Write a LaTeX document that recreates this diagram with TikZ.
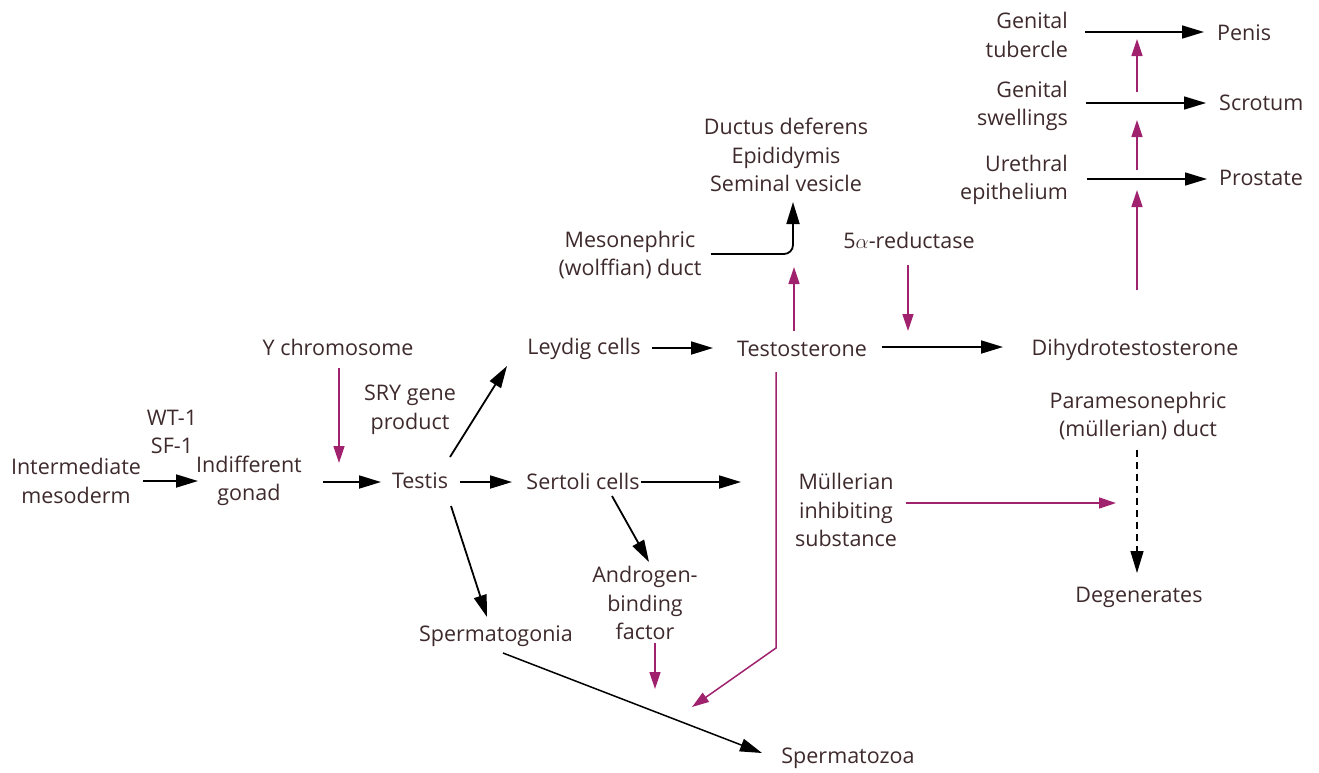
\documentclass[tikz,border=0pt]{standalone}
\usepackage{fontspec}
\setmainfont{Open Sans}
\usetikzlibrary{arrows.meta}
\definecolor{txt}{HTML}{3E2A2C}
\definecolor{mag}{HTML}{A0226E}
\begin{document}
\begin{tikzpicture}[x=1pt,y=-1pt,
  lbl/.style={font=\fontsize{21.5}{28.5}\selectfont, text=txt, align=center, inner sep=0pt},
  blk/.style={line width=1.8pt, draw=black, -{Triangle[length=22pt,width=13pt]}},
  mg/.style={line width=1.5pt, draw=mag, -{Triangle[length=17pt,width=11pt]}}]
\useasboundingbox (0,0) rectangle (1319,772);
% labels
\node[lbl] (im) at (76,481) {Intermediate\\mesoderm};
\node[lbl] (wt) at (172,432) {WT-1\\SF-1};
\node[lbl] (ig) at (249,481) {Indifferent\\gonad};
\node[lbl] (testis) at (420,481) {Testis};
\node[lbl] (ychr) at (338,347) {Y chromosome};
\node[lbl] (sry) at (410,410) {SRY gene\\product};
\node[lbl] (leydig) at (584,349) {Leydig cells};
\node[lbl] (testo) at (802,349) {Testosterone};
\node[lbl] (dht) at (1135,350) {Dihydrotestosterone};
\node[lbl] (sertoli) at (583,481) {Sertoli cells};
\node[lbl] (mis) at (846,510) {Müllerian\\inhibiting\\substance};
\node[lbl] (abf) at (645,603) {Androgen-\\binding\\factor};
\node[lbl] (sgon) at (496,636) {Spermatogonia};
\node[lbl] (szoa) at (848,758) {Spermatozoa};
\node[lbl] (para) at (1138,416) {Paramesonephric\\(müllerian) duct};
\node[lbl] (degen) at (1139,597) {Degenerates};
\node[lbl] (meso) at (630,255) {Mesonephric\\(wolffian) duct};
\node[lbl] (duct) at (786,155) {Ductus deferens\\Epididymis\\Seminal vesicle};
\node[lbl] (red) at (909,240) {5$\alpha$-reductase};
\node[lbl, anchor=east, align=right] (gt) at (1068,35) {Genital\\tubercle};
\node[lbl, anchor=east, align=right] (gs) at (1068,106) {Genital\\swellings};
\node[lbl, anchor=east, align=right] (ue) at (1068,180) {Urethral\\epithelium};
\node[lbl, anchor=west] (penis) at (1217,33) {Penis};
\node[lbl, anchor=west] (scrot) at (1219,103) {Scrotum};
\node[lbl, anchor=west] (prost) at (1219,178) {Prostate};
% free ends
\coordinate (c1) at (143,481); \coordinate (c2) at (198,481);
\coordinate (c3) at (323,482); \coordinate (c4) at (381,482);
\coordinate (c5) at (339,368); \coordinate (c6) at (339,463);
\coordinate (c7) at (450,457); \coordinate (c8) at (507,366);
\coordinate (c9) at (460,482); \coordinate (c10) at (512,482);
\coordinate (c11) at (451,506); \coordinate (c12) at (487,617);
\coordinate (c13) at (652,348); \coordinate (c14) at (713,348);
\coordinate (c15) at (882,347); \coordinate (c16) at (1003,347);
\coordinate (c17) at (908,265); \coordinate (c18) at (908,331);
\coordinate (c19) at (794,331); \coordinate (c20) at (794,267);
\coordinate (c21) at (711,254); \coordinate (c22) at (793,202);
\coordinate (c23) at (776,372); \coordinate (c24) at (776,648); \coordinate (c25) at (692,707);
\coordinate (c26) at (641,482); \coordinate (c27) at (741,482);
\coordinate (c28) at (612,496); \coordinate (c29) at (649,562);
\coordinate (c30) at (655,643); \coordinate (c31) at (655,689);
\coordinate (c32) at (503,653); \coordinate (c33) at (762,753);
\coordinate (c34) at (906,503); \coordinate (c35) at (1116,503);
\coordinate (c36) at (1137,450); \coordinate (c37) at (1137,573);
\coordinate (c38) at (1137,290); \coordinate (c39) at (1137,190);
\coordinate (c40) at (1137,170); \coordinate (c41) at (1137,120);
\coordinate (c42) at (1137,92); \coordinate (c43) at (1137,39);
\coordinate (c44) at (1085,32); \coordinate (c45) at (1204,32);
\coordinate (c46) at (1086,103); \coordinate (c47) at (1206,103);
\coordinate (c48) at (1087,179); \coordinate (c49) at (1207,179);
% connectors
\draw[blk] (c1) -- (c2);
\draw[blk] (c3) -- (c4);
\draw[mg] (c5) -- (c6);
\draw[blk] (c7) -- (c8);
\draw[blk] (c9) -- (c10);
\draw[blk] (c11) -- (c12);
\draw[blk] (c13) -- (c14);
\draw[blk] (c15) -- (c16);
\draw[mg] (c17) -- (c18);
\draw[mg] (c19) -- (c20);
\draw[blk, rounded corners=9pt] (c21) -| (c22);
\draw[mg] (c23) -- (c24) -- (c25);
\draw[blk] (c26) -- (c27);
\draw[blk] (c28) -- (c29);
\draw[mg] (c30) -- (c31);
\draw[blk, line width=1.5pt] (c32) -- (c33);
\draw[mg] (c34) -- (c35);
\draw[blk, line width=1.3pt, dash pattern=on 7pt off 5pt] (c36) -- (c37);
\draw[mg] (c38) -- (c39);
\draw[mg] (c40) -- (c41);
\draw[mg] (c42) -- (c43);
\draw[blk, line width=1.5pt] (c44) -- (c45);
\draw[blk, line width=1.5pt] (c46) -- (c47);
\draw[blk, line width=1.5pt] (c48) -- (c49);
\end{tikzpicture}
\end{document}
